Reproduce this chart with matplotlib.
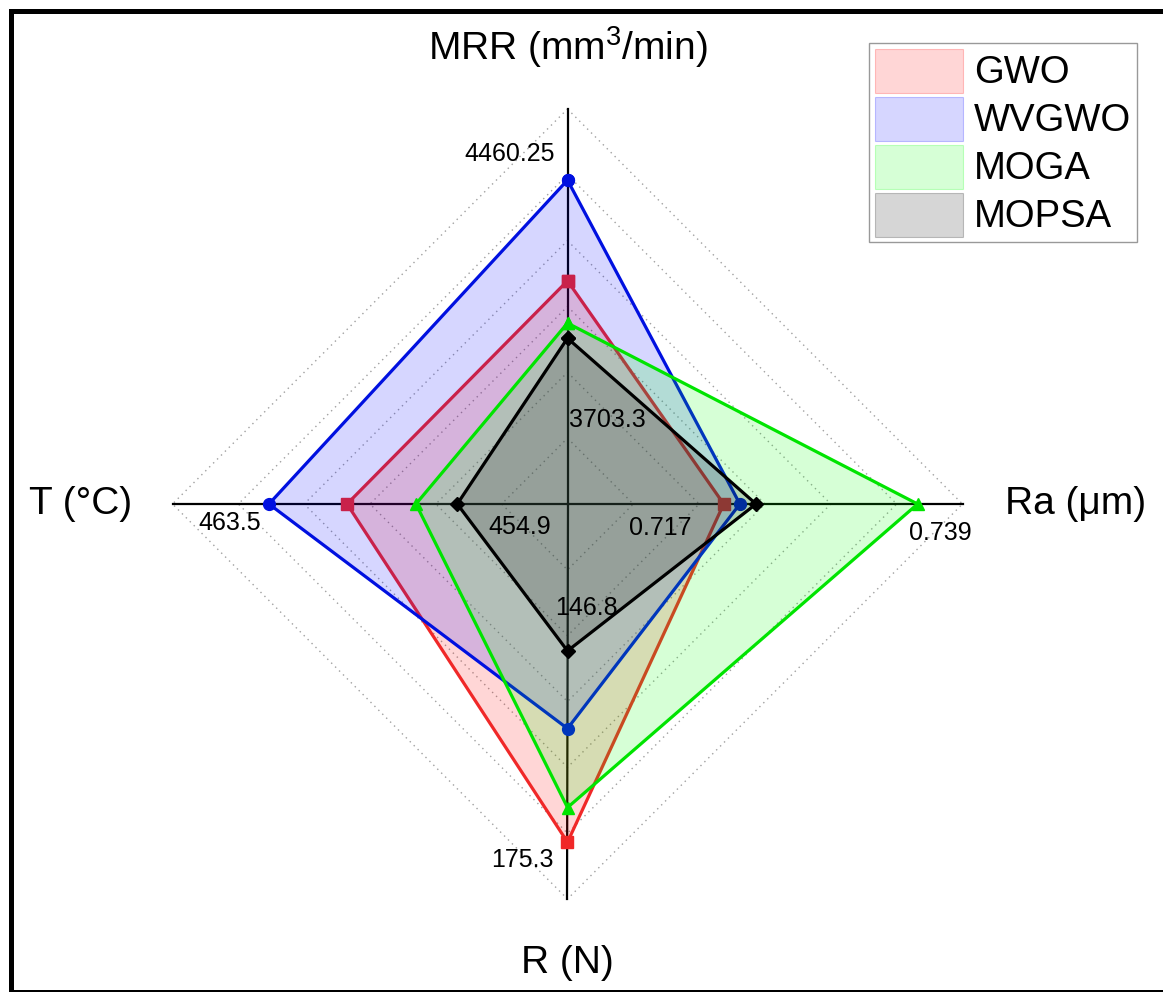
import numpy as np
import matplotlib
matplotlib.use('Agg')
import matplotlib.pyplot as plt
from matplotlib.patches import Patch, Rectangle

plt.rcParams['font.family'] = ['Liberation Sans', 'DejaVu Sans']
plt.rcParams['mathtext.fontset'] = 'custom'
plt.rcParams['mathtext.rm'] = 'Liberation Sans'

# Ejes del radar (en sentido horario desde arriba)
ejes = ['MRR', 'Ra', 'R', 'T']
eje_min = [3703.3, 0.717, 146.8, 454.9]
eje_max = [4460.25, 0.739, 175.3, 463.5]

# Valores de cada algoritmo
gwo = [4131.0, 0.7257, 171.2, 459.7]
wvgwo = [4324.0, 0.7266, 163.0, 461.4]
moga = [4050.0, 0.7365, 168.7, 458.2]
mopsa = [4021.0, 0.7275, 157.4, 457.3]

series = [('GWO', gwo, 'red', '#f02828', 's', 8.5),
          ('WVGWO', wvgwo, 'blue', '#0010e0', 'o', 8.5),
          ('MOGA', moga, 'lime', '#00e400', '^', 9),
          ('MOPSA', mopsa, 'black', 'black', 'D', 7)]

angulos = np.deg2rad([90, 0, 270, 180])
n_anillos = 6

W, H = 1163, 992
cx, cy, R = 567.5, 504, 395.0

fig = plt.figure(figsize=(W / 100, H / 100), dpi=100)
ax = fig.add_axes([0, 0, 1, 1])
ax.set_xlim(-cx / R, (W - cx) / R)
ax.set_ylim(-(H - cy) / R, cy / R)
ax.axis('off')

# Rejilla punteada en rombos
for k in range(1, n_anillos + 1):
    r = k / n_anillos
    xs = np.append(r * np.cos(angulos), r * np.cos(angulos[0]))
    ys = np.append(r * np.sin(angulos), r * np.sin(angulos[0]))
    ax.plot(xs, ys, color='#a0a0a0', lw=1.0, ls=(0, (1, 3)), zorder=1)

# Radios de los ejes
for a in angulos:
    ax.plot([0, np.cos(a)], [0, np.sin(a)], color='black', lw=1.6, zorder=2)

# Poligonos
z = 3
for nombre, vals, fcol, lcol, mk, ms in series:
    r = [(v - lo) / (hi - lo) for v, lo, hi in zip(vals, eje_min, eje_max)]
    xs = np.array(r) * np.cos(angulos)
    ys = np.array(r) * np.sin(angulos)
    xs = np.append(xs, xs[0])
    ys = np.append(ys, ys[0])
    ax.fill(xs, ys, color=fcol, alpha=0.16, lw=0, zorder=z)
    ax.plot(xs, ys, color=lcol, lw=2.3, marker=mk, ms=ms, zorder=z + 1)
    z += 2

# Etiquetas de escala
fs = 18
kw = dict(fontsize=fs, va='center', zorder=20)
ax.text(-0.032, 0.886, '4460.25', ha='right', **kw)
ax.text(0.004, 0.213, '3703.3', ha='left', **kw)
ax.text(0.234, -0.061, '0.717', ha='center', **kw)
ax.text(0.943, -0.073, '0.739', ha='center', **kw)
ax.text(-0.854, -0.048, '463.5', ha='center', **kw)
ax.text(-0.120, -0.058, '454.9', ha='center', **kw)
ax.text(0.049, -0.263, '146.8', ha='center', **kw)
ax.text(-0.113, -0.901, '175.3', ha='center', **kw)

# Titulos de los ejes
ft = 28
ax.text(0, 1.124, r'MRR (mm$^{3}$/min)', fontsize=ft, ha='center', va='baseline')
ax.text(1.108, 0, 'Ra (μm)', fontsize=ft, ha='left', va='center')
ax.text(-1.103, 0, 'T (°C)', fontsize=ft, ha='right', va='center')
ax.text(0, -1.187, 'R (N)', fontsize=ft, ha='center', va='baseline')

# Leyenda
handles = [Patch(facecolor=(*matplotlib.colors.to_rgb(f), 0.16),
                 edgecolor=(*matplotlib.colors.to_rgb(f), 0.22), lw=0.8, label=n)
           for n, _, f, _, _, _ in series]
fig.legend(handles=handles, loc='upper right', bbox_to_anchor=(1137 / W, 1 - 43 / H),
           fontsize=27.5, frameon=True, fancybox=False, edgecolor='#808080',
           handlelength=2.3, handleheight=1.4, labelspacing=0.1,
           handletextpad=0.3, borderpad=0.15, borderaxespad=0)

# Marco exterior
fig.patches.append(Rectangle((10.5 / W, 1 - 992 / H), 1.1, (992 - 10.5) / H,
                             transform=fig.transFigure, fill=False,
                             edgecolor='black', lw=3.6))

fig.savefig('out.png', dpi=100)
